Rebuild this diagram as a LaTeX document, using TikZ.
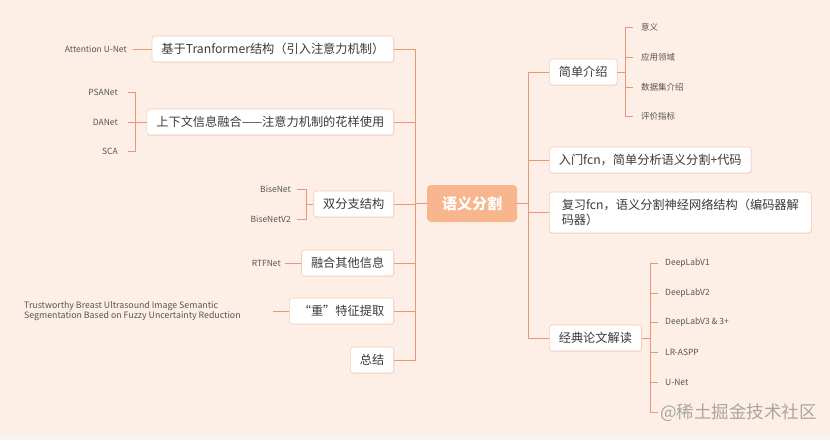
\documentclass[tikz,border=0pt]{standalone}
\usepackage{fontspec}
\setmainfont{Noto Sans CJK SC}
\usetikzlibrary{shadows}
\definecolor{bg}{HTML}{FDEFE5}
\definecolor{bgb}{HTML}{FBF5F1}
\definecolor{ln}{HTML}{E8977C}
\definecolor{bx}{HTML}{F1CDBA}
\definecolor{ctr}{HTML}{F8B68F}
\definecolor{txt}{HTML}{3A3A3A}
\definecolor{lf}{HTML}{555555}
\begin{document}
\begin{tikzpicture}[x=1pt,y=-1pt,
  box/.style={draw=bx, fill=white, rounded corners=3pt, text=txt,
    font=\fontsize{12.2}{15}\selectfont, inner xsep=9.5pt, inner ysep=0pt,
    minimum height=26pt, line width=0.6pt,
    drop shadow={shadow xshift=0.6pt, shadow yshift=-0.8pt, fill=black, opacity=0.06}},
  leaf/.style={text=lf, font=\fontsize{8.5}{10}\selectfont, inner sep=0pt},
  conn/.style={draw=ln, line width=0.9pt}]
\fill[bg] (0,0) rectangle (830,440);
\fill[bgb] (0,436) rectangle (830,440);
\useasboundingbox (0,0) rectangle (830,440);

% centre
\node[fill=ctr, rounded corners=4pt, text=white,
  font=\fontsize{15}{18}\selectfont\bfseries,
  minimum width=90pt, minimum height=37pt] (c) at (472,203.5) {语义分割};

% ---------- left side ----------
\node[box, anchor=east] (l1) at (394,49) {基于Tranformer结构（引入注意力机制）};
\node[box, anchor=east] (l2) at (394,122) {上下文信息融合——注意力机制的花样使用};
\node[box, anchor=east] (l3) at (394,204) {双分支结构};
\node[box, anchor=east] (l4) at (394,263) {融合其他信息};
\node[box, anchor=east] (l5) at (394,311) {“重”特征提取};
\node[box, anchor=east] (l6) at (394,360) {总结};

\coordinate (lB) at (415,360);
\draw[conn] (l1.east) -| (lB) -- (l6.east);
\foreach \n in {l2,l3,l4,l5} \draw[conn] (\n.east) -- (\n.east -| lB);
\draw[conn] (c.west) -- (c.west -| lB);

% leaves of l1
\node[leaf, anchor=east] (a1) at (127,49) {Attention U-Net};
\draw[conn] ([xshift=6pt]a1.east) -- (l1.west);

% leaves of l2
\node[leaf, anchor=east] (p1) at (118,92) {PSANet};
\node[leaf, anchor=east] (p2) at (118,122) {DANet};
\node[leaf, anchor=east] (p3) at (118,151) {SCA};
\draw[conn] ([xshift=10pt]p1.east) -- ++(7,0) |- ([xshift=10pt]p3.east);
\draw[conn] ([xshift=10pt]p2.east) -- (l2.west);

% leaves of l3
\node[leaf, anchor=east] (b1) at (291,189) {BiseNet};
\node[leaf, anchor=east] (b2) at (291,219) {BiseNetV2};
\draw[conn] ([xshift=6pt]b1.east) -- ++(9,0) |- ([xshift=6pt]b2.east);
\coordinate (b3) at (306,204);
\draw[conn] (b3) -- (l3.west);

% leaves of l4
\node[leaf, anchor=east] (r4) at (281,263) {RTFNet};
\draw[conn] ([xshift=4pt]r4.east) -- (l4.west);

% leaves of l5
\node[leaf, anchor=west, align=left, font=\fontsize{8.8}{10.5}\selectfont] (t5) at (24,311)
  {Trustworthy Breast Ultrasound Image Semantic\\Segmentation Based on Fuzzy Uncertainty Reduction};
\coordinate (t5e) at (273,311);
\draw[conn] (t5e) -- (l5.west);

% ---------- right side ----------
\node[box, anchor=west] (r1) at (549,72) {简单介绍};
\node[box, anchor=west] (r2) at (549,160) {入门fcn，简单分析语义分割+代码};
\node[box, anchor=west, align=left, minimum height=41pt, minimum width=262pt] (r3) at (549,212.5)
  {复习fcn，语义分割神经网络结构（编码器解\\码器）};
\node[box, anchor=west] (r4b) at (549,338) {经典论文解读};

\coordinate (rT) at (528,72);
\draw[conn] (r1.west) -| (rT) |- (r4b.west);
\draw[conn] (r2.west) -- (r2.west -| rT);
\draw[conn] (r3.west) -- (r3.west -| rT);
\draw[conn] (c.east) -- (c.east -| rT);

% leaves of r1
\node[leaf, anchor=west] (s1) at (641,27) {意义};
\node[leaf, anchor=west] (s2) at (641,57) {应用领域};
\node[leaf, anchor=west] (s3) at (641,87) {数据集介绍};
\node[leaf, anchor=west] (s4) at (641,116) {评价指标};
\draw[conn] ([xshift=-8pt]s1.west) -- ++(-8,0) |- ([xshift=-8pt]s4.west);
\draw[conn] ([xshift=-8pt]s2.west) -- ++(-8,0);
\draw[conn] ([xshift=-8pt]s3.west) -- ++(-8,0);
\coordinate (sb) at (625,72);
\draw[conn] (r1.east) -- (sb);

% leaves of r4
\node[leaf, anchor=west] (d1) at (665,263) {DeepLabV1};
\node[leaf, anchor=west] (d2) at (665,293) {DeepLabV2};
\node[leaf, anchor=west] (d3) at (665,322) {DeepLabV3 \& 3+};
\node[leaf, anchor=west] (d4) at (665,352) {LR-ASPP};
\node[leaf, anchor=west] (d5) at (665,382) {U-Net};
\coordinate (d6) at (658,412);
\draw[conn] ([xshift=-7pt]d1.west) -- ++(-8,0) |- (d6);
\foreach \n in {d2,d3,d4,d5} \draw[conn] ([xshift=-7pt]\n.west) -- ++(-8,0);
\coordinate (db) at (650,338);
\draw[conn] (r4b.east) -- (db);

% watermark
\node[anchor=west, text=black!40, opacity=0.85, font=\fontsize{17.5}{20}\selectfont, inner sep=0pt] (wm) at (660,413) {@稀土掘金技术社区};
\end{tikzpicture}
\end{document}
